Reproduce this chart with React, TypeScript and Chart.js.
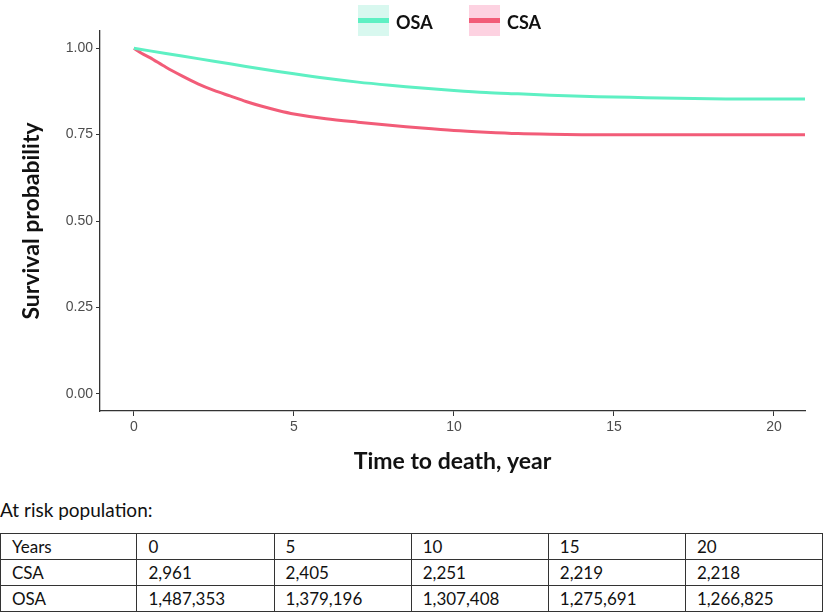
import React, { useEffect, useRef } from "react";
import { Chart, registerables } from "chart.js";

Chart.register(...registerables);

// Kaplan–Meier curves
const osaTime = [0, 1, 2, 3, 4, 5, 6, 7, 8, 9, 10, 11, 12, 13, 14, 15, 16, 17, 18, 19, 20, 21];
const osaSurv = [1.0, 0.985, 0.97, 0.955, 0.94, 0.926, 0.913, 0.902, 0.893, 0.885, 0.878, 0.872, 0.868, 0.864, 0.861, 0.859, 0.857, 0.855, 0.854, 0.853, 0.853, 0.853];

const csaTime = [0, 0.25, 0.5, 1, 1.5, 2, 2.5, 3, 3.5, 4, 4.5, 5, 6, 7, 8, 9, 10, 11, 12, 13, 14, 15, 16, 17, 18, 19, 20, 21];
const csaSurv = [1.0, 0.985, 0.973, 0.945, 0.92, 0.897, 0.878, 0.862, 0.846, 0.832, 0.82, 0.81, 0.796, 0.786, 0.777, 0.769, 0.762, 0.757, 0.753, 0.751, 0.75, 0.75, 0.75, 0.75, 0.75, 0.75, 0.75, 0.75];

const xTicks = [0, 5, 10, 15, 20];
const yTicks = [0, 0.25, 0.5, 0.75, 1.0];

const seriesLabels = ["OSA", "CSA"];

// At-risk table
const tableHeader = ["Years", "0", "5", "10", "15", "20"];
const csaRisk = ["2,961", "2,405", "2,251", "2,219", "2,218"];
const osaRisk = ["1,487,353", "1,379,196", "1,307,408", "1,275,691", "1,266,825"];

const OSA_COLOR = "#5ef0c3";
const CSA_COLOR = "#f25c78";
const OSA_BG = "#d8f8ef";
const CSA_BG = "#fdd2e1";

const legendPlugin = {
  id: "kmLegend",
  afterDraw(chart: any) {
    const ctx = chart.ctx;
    const pos = [
      { x: 358, bg: OSA_BG },
      { x: 469, bg: CSA_BG },
    ];
    chart.data.datasets.forEach((ds: any, i: number) => {
      const p = pos[i];
      ctx.save();
      ctx.fillStyle = p.bg;
      ctx.fillRect(p.x, 5, 31, 31);
      ctx.fillStyle = ds.borderColor;
      ctx.fillRect(p.x, 18, 31, 5);
      ctx.fillStyle = "#111";
      ctx.font = "bold 18px Lato";
      ctx.textBaseline = "middle";
      ctx.fillText(ds.label, p.x + 38, 23);
      ctx.restore();
    });
  },
};

export default function App() {
  const ref = useRef<HTMLCanvasElement | null>(null);

  useEffect(() => {
    document.body.style.margin = "0";
    const canvas = ref.current;
    if (!canvas) return;
    const chart = new Chart(canvas, {
      type: "line",
      data: {
        datasets: [
          {
            label: seriesLabels[0],
            data: osaTime.map((t, i) => ({ x: t, y: osaSurv[i] })),
            borderColor: OSA_COLOR,
            borderWidth: 3,
            pointRadius: 0,
            tension: 0.3,
          },
          {
            label: seriesLabels[1],
            data: csaTime.map((t, i) => ({ x: t, y: csaSurv[i] })),
            borderColor: CSA_COLOR,
            borderWidth: 3,
            pointRadius: 0,
            tension: 0.3,
          },
        ],
      },
      options: {
        animation: false,
        responsive: false,
        maintainAspectRatio: false,
        layout: { padding: { top: 31, right: 20, left: 0, bottom: 0 } },
        plugins: { legend: { display: false }, tooltip: { enabled: false } },
        scales: {
          x: {
            type: "linear",
            min: -1.06,
            max: 20.97,
            afterBuildTicks: (s: any) => {
              s.ticks = xTicks.map((v) => ({ value: v }));
            },
            afterFit: (s: any) => {
              s.height = 79;
            },
            border: { color: "#333", width: 1.3 },
            grid: { drawOnChartArea: false, drawTicks: true, tickLength: 5, color: "#333" },
            ticks: {
              color: "#4d4d4d",
              font: { family: "Liberation Sans", size: 14 },
              padding: 3,
              maxRotation: 0,
            },
            title: {
              display: true,
              text: "Time to death, year",
              color: "#111",
              font: { family: "Lato", size: 23, weight: "bold" },
              padding: { top: 0, bottom: 15 },
            },
          },
          y: {
            type: "linear",
            min: -0.05,
            max: 1.05,
            afterBuildTicks: (s: any) => {
              s.ticks = yTicks.map((v) => ({ value: v }));
            },
            afterFit: (s: any) => {
              s.width = 100;
            },
            border: { color: "#333", width: 1.3 },
            grid: { drawOnChartArea: false, drawTicks: true, tickLength: 4, color: "#333" },
            ticks: {
              color: "#4d4d4d",
              font: { family: "Liberation Sans", size: 14 },
              padding: 3,
              callback: (v: any) => Number(v).toFixed(2),
            },
            title: {
              display: true,
              text: "Survival probability",
              color: "#111",
              font: { family: "Lato", size: 23, weight: "bold" },
              padding: { top: 18, bottom: 0 },
            },
          },
        },
      },
      plugins: [legendPlugin],
    } as any);
    return () => chart.destroy();
  }, []);

  const cell: React.CSSProperties = {
    border: "1px solid #333",
    padding: "0 0 0 11px",
    height: 25,
    lineHeight: "25px",
    width: 126,
    textAlign: "left",
    fontWeight: "normal",
  };

  return (
    <div style={{ width: 825, fontFamily: "Lato", fontSize: 17, color: "#111" }}>
      <canvas ref={ref} width={825} height={490} style={{ display: "block" }} />
      <div style={{ height: 43, lineHeight: "40px", fontSize: 19 }}>At risk population:</div>
      <table style={{ borderCollapse: "collapse", width: 823 }}>
        <tbody>
          <tr>
            {tableHeader.map((h) => (
              <td key={h} style={cell}>{h}</td>
            ))}
          </tr>
          <tr>
            <td style={cell}>CSA</td>
            {csaRisk.map((v, i) => (
              <td key={i} style={cell}>{v}</td>
            ))}
          </tr>
          <tr>
            <td style={cell}>OSA</td>
            {osaRisk.map((v, i) => (
              <td key={i} style={cell}>{v}</td>
            ))}
          </tr>
        </tbody>
      </table>
    </div>
  );
}
